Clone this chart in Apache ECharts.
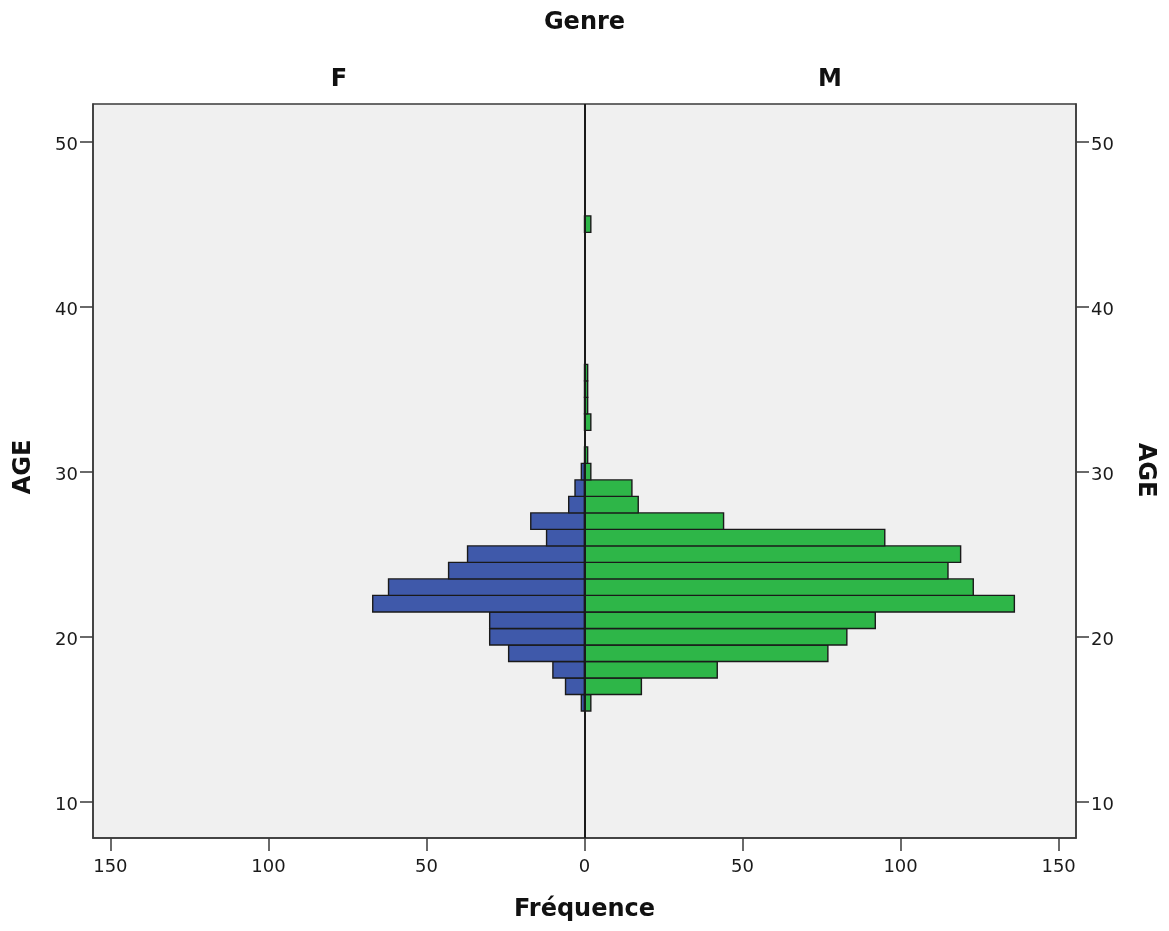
<!DOCTYPE html>
<html>
<head>
<meta charset="utf-8">
<style>
  html, body { margin: 0; padding: 0; background: #ffffff; }
  #chart { width: 1169px; height: 931px; }
</style>
<script src="https://cdn.jsdelivr.net/npm/echarts@6/dist/echarts.min.js"></script>
</head>
<body>
<div id="chart"></div>
<script>
// ---- Data ----
const femaleAges   = [16, 17, 18, 19, 20, 21, 22, 23, 24, 25, 26, 27, 28, 29, 30];
const femaleCounts = [ 1,  6, 10, 24, 30, 30, 67, 62, 43, 37, 12, 17,  5,  3,  1];
const maleAges     = [16, 17, 18, 19, 20, 21, 22, 23, 24, 25, 26, 27, 28, 29, 30, 31, 33, 34, 35, 36, 45];
const maleCounts   = [ 2, 18, 42, 77, 83, 92, 136, 123, 115, 119, 95, 44, 17, 15,  2,  1,  2,  1,  1,  1,  2];
const xTickValues  = [-150, -100, -50, 0, 50, 100, 150];
const yTickValues  = [10, 20, 30, 40, 50];
const groupLabels  = ['F', 'M'];
const chartTitle   = 'Genre';
const xTitle       = 'Fréquence';
const yTitle       = 'AGE';

const FONT = '"DejaVu Sans", Verdana, sans-serif';

const femaleData = femaleAges.map((a, i) => [-femaleCounts[i], a]);
const maleData   = maleAges.map((a, i) => [maleCounts[i], a]);

function barRenderer(color) {
  return function (params, api) {
    const v = api.value(0);
    const age = api.value(1);
    const p1 = api.coord([0, age + 0.5]);
    const p2 = api.coord([v, age - 0.5]);
    const x = Math.min(p1[0], p2[0]);
    const w = Math.abs(p2[0] - p1[0]);
    return {
      type: 'rect',
      shape: { x: x, y: p1[1], width: w, height: p2[1] - p1[1] },
      style: { fill: color, stroke: '#1a1a1a', lineWidth: 1.4 }
    };
  };
}

const chart = echarts.init(document.getElementById('chart'), null, { renderer: 'canvas' });

const yAxisCommon = {
  type: 'value',
  min: 7.8,
  max: 52.28,
  splitLine: { show: false },
  axisLine: { show: true, onZero: false, lineStyle: { color: '#3a3a3a', width: 1.5 } },
  axisTick: { show: true, inside: false, length: 13, customValues: yTickValues, lineStyle: { color: '#3a3a3a', width: 1.5 } },
  axisLabel: { customValues: yTickValues, margin: 15, fontFamily: FONT, fontSize: 18, color: '#1a1a1a', verticalAlign: 'top', lineHeight: 8 }
};

chart.setOption({
  animation: false,
  backgroundColor: '#ffffff',
  grid: {
    left: 93, right: 93, top: 104, bottom: 93,
    show: true, backgroundColor: '#f0f0f0', borderColor: '#3a3a3a', borderWidth: 1.5
  },
  xAxis: {
    type: 'value',
    min: -155.5,
    max: 155.5,
    splitLine: { show: false },
    axisLine: { show: true, onZero: false, lineStyle: { color: '#3a3a3a', width: 1.5 } },
    axisTick: { show: true, inside: false, length: 13, customValues: xTickValues, lineStyle: { color: '#3a3a3a', width: 1.5 } },
    axisLabel: {
      customValues: xTickValues, margin: 20, fontFamily: FONT, fontSize: 18, color: '#1a1a1a',
      formatter: v => String(Math.abs(v))
    },
    name: xTitle,
    nameLocation: 'middle',
    nameGap: 60,
    nameTextStyle: { fontFamily: FONT, fontSize: 24, fontWeight: 'bold', color: '#111' }
  },
  yAxis: [
    Object.assign({ position: 'left' }, yAxisCommon),
    Object.assign({ position: 'right' }, yAxisCommon)
  ],
  graphic: [
    { type: 'text', x: 584.5, y: 22.5, style: { text: chartTitle, font: 'bold 24px ' + FONT, fill: '#111', align: 'center', verticalAlign: 'middle' } },
    { type: 'text', x: 339, y: 80, style: { text: groupLabels[0], font: 'bold 24px ' + FONT, fill: '#111', align: 'center', verticalAlign: 'middle' } },
    { type: 'text', x: 830, y: 80, style: { text: groupLabels[1], font: 'bold 24px ' + FONT, fill: '#111', align: 'center', verticalAlign: 'middle' } },
    { type: 'text', x: 24, y: 467, rotation: Math.PI / 2, style: { text: yTitle, font: 'bold 24px ' + FONT, fill: '#111', align: 'center', verticalAlign: 'middle' } },
    { type: 'text', x: 1145, y: 470, rotation: -Math.PI / 2, style: { text: yTitle, font: 'bold 24px ' + FONT, fill: '#111', align: 'center', verticalAlign: 'middle' } }
  ],
  series: [
    {
      name: groupLabels[0],
      type: 'custom',
      renderItem: barRenderer('#3f59aa'),
      encode: { x: 0, y: 1 },
      data: femaleData,
      z: 2
    },
    {
      name: groupLabels[1],
      type: 'custom',
      renderItem: barRenderer('#2eb648'),
      encode: { x: 0, y: 1 },
      data: maleData,
      z: 2,
      markLine: {
        silent: true,
        symbol: 'none',
        label: { show: false },
        lineStyle: { color: '#1a1a1a', width: 2, type: 'solid' },
        data: [{ xAxis: 0 }],
        z: 5
      }
    }
  ]
});
</script>
</body>
</html>
